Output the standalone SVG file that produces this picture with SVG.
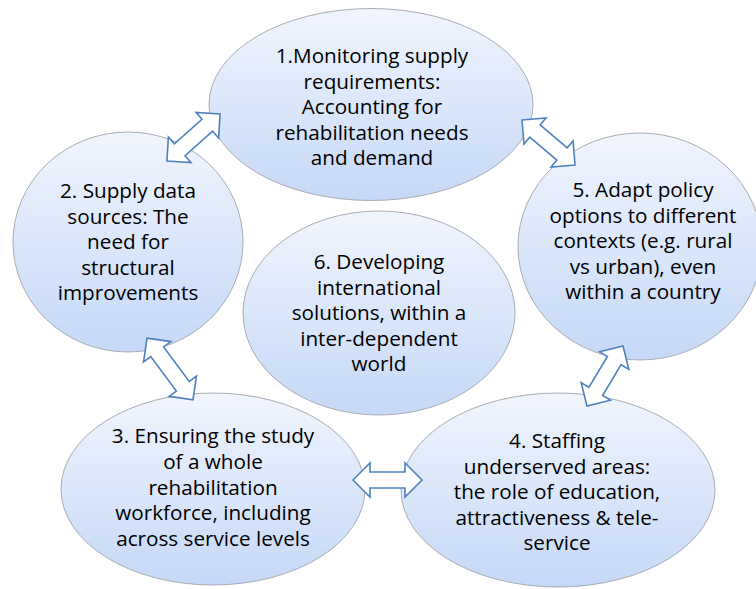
<svg xmlns="http://www.w3.org/2000/svg" width="756" height="589" viewBox="0 0 756 589">
<defs>
<linearGradient id="g" x1="0" y1="0" x2="0" y2="1">
<stop offset="0" stop-color="#f1f5fd"/>
<stop offset="1" stop-color="#c5d8f7"/>
</linearGradient>
</defs>
<style>
.node ellipse{fill:url(#g);stroke:#a9acb2;stroke-width:1}
.node text{font-family:"Open Sans","Noto Sans",sans-serif;font-size:20.7px;fill:#000;text-anchor:middle}
.conn path{fill:#fff;stroke:#4f81bd;stroke-width:1.6;stroke-linejoin:miter}
</style>
<rect width="756" height="589" fill="#fff"/>
<g id="n1" class="node">
<ellipse cx="371" cy="104.5" rx="162" ry="96"/>
<text x="372" y="63">1.Monitoring supply</text>
<text x="372" y="88.5">requirements:</text>
<text x="372" y="114">Accounting for</text>
<text x="372" y="139.5">rehabilitation needs</text>
<text x="372" y="165">and demand</text>
</g>
<g id="n2" class="node">
<ellipse cx="128" cy="242" rx="115" ry="110"/>
<text x="128" y="198">2. Supply data</text>
<text x="128" y="223.5">sources: The</text>
<text x="128" y="249">need for</text>
<text x="128" y="274.5">structural</text>
<text x="128" y="300">improvements</text>
</g>
<g id="n3" class="node">
<ellipse cx="213" cy="489" rx="152" ry="96"/>
<text x="213" y="443">3. Ensuring the study</text>
<text x="213" y="468.5">of a whole</text>
<text x="213" y="494.5">rehabilitation</text>
<text x="213" y="520">workforce, including</text>
<text x="213" y="545.5">across service levels</text>
</g>
<g id="n4" class="node">
<ellipse cx="558" cy="490" rx="157" ry="97"/>
<text x="557" y="448">4. Staffing</text>
<text x="557" y="473.5">underserved areas:</text>
<text x="557" y="499">the role of education,</text>
<text x="557" y="524.5">attractiveness &amp; tele-</text>
<text x="557" y="550">service</text>
</g>
<g id="n5" class="node">
<ellipse cx="640" cy="246.5" rx="122" ry="113.5"/>
<text x="643" y="197">5. Adapt policy</text>
<text x="643" y="222.5">options to different</text>
<text x="643" y="248">contexts (e.g. rural</text>
<text x="643" y="273.5">vs urban), even</text>
<text x="643" y="299">within a country</text>
</g>
<g id="n6" class="node">
<ellipse cx="379" cy="313" rx="136" ry="102"/>
<text x="379" y="269">6. Developing</text>
<text x="379" y="294.5">international</text>
<text x="379" y="320">solutions, within a</text>
<text x="379" y="345.5">inter-dependent</text>
<text x="379" y="371">world</text>
</g>
<g id="connectors" class="conn">
<path d="M-35.5,0 L-18.5,-17 L-18.5,-8 L18.5,-8 L18.5,-17 L35.5,0 L18.5,17 L18.5,8 L-18.5,8 L-18.5,17 Z" transform="translate(193.5,137.5) rotate(-41.6)"/>
<path d="M-34.75,0 L-17.75,-17 L-17.75,-8 L17.75,-8 L17.75,-17 L34.75,0 L17.75,17 L17.75,8 L-17.75,8 L-17.75,17 Z" transform="translate(548.5,142.5) rotate(40.3)"/>
<path d="M-38.5,0 L-21.5,-17 L-21.5,-8 L21.5,-8 L21.5,-17 L38.5,0 L21.5,17 L21.5,8 L-21.5,8 L-21.5,17 Z" transform="translate(170,369) rotate(53.4)"/>
<path d="M-34.5,0 L-17.5,-17 L-17.5,-8 L17.5,-8 L17.5,-17 L34.5,0 L17.5,17 L17.5,8 L-17.5,8 L-17.5,17 Z" transform="translate(387.5,480)"/>
<path d="M-35,0 L-18,-17 L-18,-8 L18,-8 L18,-17 L35,0 L18,17 L18,8 L-18,8 L-18,17 Z" transform="translate(605,376) rotate(-59)"/>
</g>
</svg>
